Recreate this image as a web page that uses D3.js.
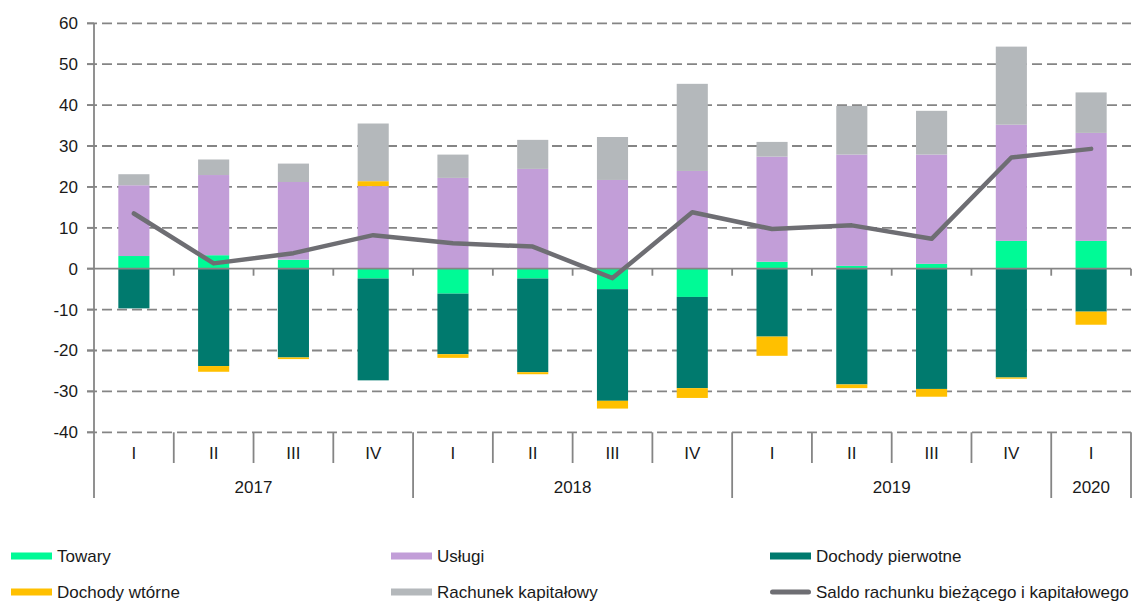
<!DOCTYPE html>
<html>
<head>
<meta charset="utf-8">
<script src="https://cdn.jsdelivr.net/npm/d3@7"></script>
<style>
  body { margin: 0; background: #fff; }
  svg text { font-family: "Liberation Sans", Arial, sans-serif; fill: #1a1a1a; }
</style>
</head>
<body>
<svg id="chart" width="1136" height="601"></svg>
<script>
// quarters and years
var quarters = ["I", "II", "III", "IV", "I", "II", "III", "IV", "I", "II", "III", "IV", "I"];
var years = [
  { label: "2017", from: 0, to: 4 },
  { label: "2018", from: 4, to: 8 },
  { label: "2019", from: 8, to: 12 },
  { label: "2020", from: 12, to: 13 }
];

// series (mld zł)
var towary = [3.1, 3.3, 2.2, -2.4, -6.1, -2.4, -5.0, -6.9, 1.7, 0.7, 1.2, 6.8, 6.8];
var uslugi = [17.3, 19.6, 19.0, 20.2, 22.2, 24.4, 21.7, 23.9, 25.7, 27.2, 26.7, 28.4, 26.4];
var pierwotne = [-9.7, -23.8, -21.7, -24.9, -14.8, -22.9, -27.3, -22.3, -16.6, -28.3, -29.4, -26.6, -10.5];
var wtorne = [0, -1.4, -0.4, 1.2, -0.9, -0.5, -1.9, -2.4, -4.7, -0.9, -1.9, -0.3, -3.2];
var kapitalowy = [2.7, 3.8, 4.5, 14.1, 5.7, 7.1, 10.5, 21.3, 3.6, 11.9, 10.7, 19.1, 9.9];
var saldo = [13.5, 1.3, 3.8, 8.2, 6.2, 5.4, -2.3, 13.8, 9.7, 10.6, 7.3, 27.2, 29.3];

var yTicks = [60, 50, 40, 30, 20, 10, 0, -10, -20, -30, -40];

var series = [
  { key: "towary", name: "Towary", color: "#00FA96", values: towary },
  { key: "uslugi", name: "Usługi", color: "#C29ED8", values: uslugi },
  { key: "pierwotne", name: "Dochody pierwotne", color: "#007A6E", values: pierwotne },
  { key: "wtorne", name: "Dochody wtórne", color: "#FFC000", values: wtorne },
  { key: "kapitalowy", name: "Rachunek kapitałowy", color: "#B4B8BB", values: kapitalowy }
];
var lineColor = "#6E6E73";

var svg = d3.select("#chart");
var plotLeft = 94, plotRight = 1131, plotTop = 23.3, plotBottom = 432.3;

var x = d3.scaleBand().domain(d3.range(quarters.length)).range([plotLeft, plotRight]).padding(0);
var y = d3.scaleLinear().domain([-40, 60]).range([plotBottom, plotTop]);
var bw = x.bandwidth(), barW = bw * 0.39;

// build rows for stacking
var rows = quarters.map(function(q, i) {
  var r = {};
  series.forEach(function(s) { r[s.key] = s.values[i]; });
  return r;
});
var stack = d3.stack().keys(series.map(function(s) { return s.key; })).offset(d3.stackOffsetDiverging);
var stacked = stack(rows);

// grid
var grid = svg.append("g");
yTicks.forEach(function(t) {
  if (t === 0) return;
  grid.append("line")
    .attr("x1", plotLeft - 7).attr("x2", plotRight)
    .attr("y1", y(t)).attr("y2", y(t))
    .attr("stroke", "#858585").attr("stroke-width", 1.8)
    .attr("stroke-dasharray", "10,5");
});

// bars
svg.append("g").selectAll("g")
  .data(stacked)
  .enter().append("g")
    .attr("fill", function(d, i) { return series[i].color; })
  .selectAll("rect")
  .data(function(d) { return d; })
  .enter().append("rect")
    .attr("x", function(d, i) { return x(i) + (bw - barW) / 2; })
    .attr("width", barW)
    .attr("y", function(d) { return y(Math.max(d[0], d[1])); })
    .attr("height", function(d) { return Math.abs(y(d[0]) - y(d[1])); });

// axes
var ax = svg.append("g").attr("stroke", "#858585").attr("stroke-width", 1.8);
ax.append("line").attr("x1", plotLeft).attr("x2", plotLeft).attr("y1", plotTop).attr("y2", 498);
ax.append("line").attr("x1", plotLeft - 7).attr("x2", plotRight).attr("y1", y(0)).attr("y2", y(0));
yTicks.forEach(function(t) {
  ax.append("line").attr("x1", plotLeft - 7).attr("x2", plotLeft).attr("y1", y(t)).attr("y2", y(t));
});
d3.range(1, quarters.length + 1).forEach(function(i) {
  var xx = i === quarters.length ? plotRight : x(i);
  ax.append("line").attr("x1", xx).attr("x2", xx).attr("y1", y(0)).attr("y2", y(0) + 7);
  var isYear = years.some(function(yr) { return yr.to === i; });
  ax.append("line").attr("x1", xx).attr("x2", xx).attr("y1", plotBottom).attr("y2", isYear ? 498 : 463);
});

// y labels
svg.append("g").selectAll("text")
  .data(yTicks)
  .enter().append("text")
    .attr("x", plotLeft - 16)
    .attr("y", function(d) { return y(d); })
    .attr("dy", "0.35em")
    .attr("text-anchor", "end")
    .attr("font-size", 17)
    .text(function(d) { return d; });

// quarter labels
svg.append("g").selectAll("text")
  .data(quarters)
  .enter().append("text")
    .attr("x", function(d, i) { return x(i) + bw / 2; })
    .attr("y", 453)
    .attr("dy", "0.35em")
    .attr("text-anchor", "middle")
    .attr("font-size", 17)
    .text(function(d) { return d; });

// year labels
svg.append("g").selectAll("text")
  .data(years)
  .enter().append("text")
    .attr("x", function(d) { return (x(d.from) + (d.to === quarters.length ? plotRight : x(d.to))) / 2; })
    .attr("y", 487)
    .attr("dy", "0.35em")
    .attr("text-anchor", "middle")
    .attr("font-size", 17)
    .text(function(d) { return d.label; });

// saldo line
svg.append("path")
  .datum(saldo)
  .attr("fill", "none")
  .attr("stroke", lineColor)
  .attr("stroke-width", 4.5)
  .attr("stroke-linejoin", "round")
  .attr("stroke-linecap", "round")
  .attr("d", d3.line()
    .x(function(d, i) { return x(i) + bw / 2; })
    .y(function(d) { return y(d); }));

// legend
var legend = [
  { name: "Towary", color: series[0].color, col: 0, row: 0 },
  { name: "Usługi", color: series[1].color, col: 1, row: 0 },
  { name: "Dochody pierwotne", color: series[2].color, col: 2, row: 0 },
  { name: "Dochody wtórne", color: series[3].color, col: 0, row: 1 },
  { name: "Rachunek kapitałowy", color: series[4].color, col: 1, row: 1 },
  { name: "Saldo rachunku bieżącego i kapitałowego", color: lineColor, col: 2, row: 1, line: true }
];
var colX = [11, 391, 770], rowY = [556, 592];
var lg = svg.append("g").selectAll("g")
  .data(legend)
  .enter().append("g")
    .attr("transform", function(d) { return "translate(" + colX[d.col] + "," + rowY[d.row] + ")"; });
lg.append("rect")
  .attr("y", function(d) { return d.line ? -2.5 : -3.5; })
  .attr("width", 41)
  .attr("height", function(d) { return d.line ? 5 : 7; })
  .attr("rx", function(d) { return d.line ? 2.5 : 0; })
  .attr("fill", function(d) { return d.color; });
lg.append("text")
  .attr("x", 46)
  .attr("dy", "0.35em")
  .attr("font-size", 17)
  .text(function(d) { return d.name; });
</script>
</body>
</html>
